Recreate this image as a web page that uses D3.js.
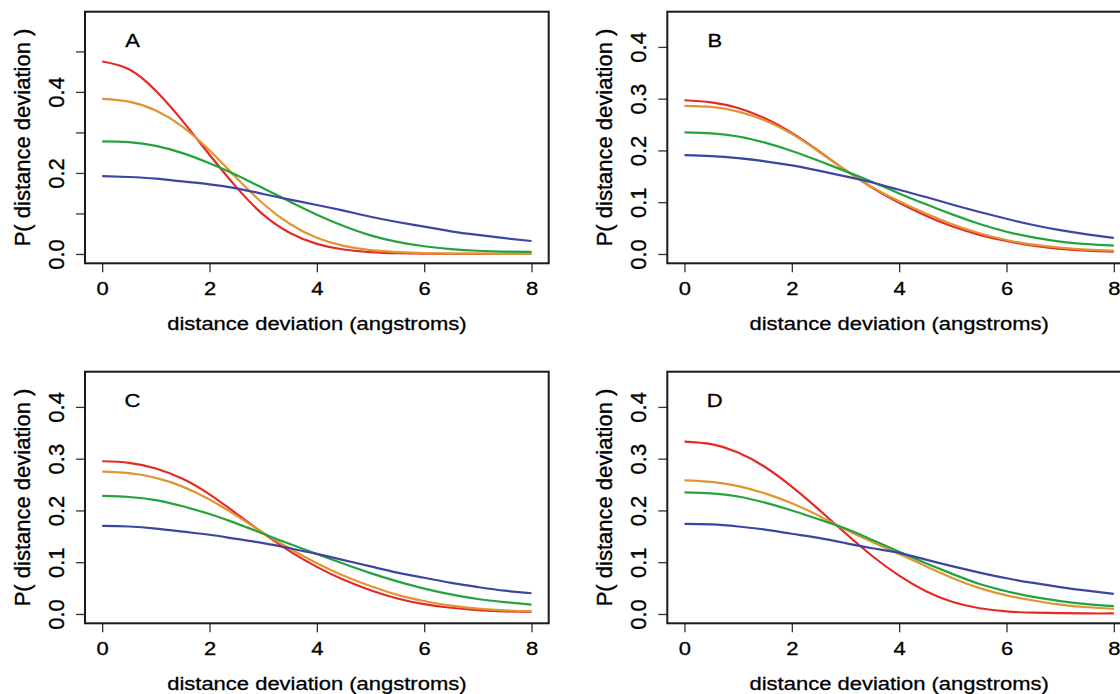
<!DOCTYPE html>
<html>
<head>
<meta charset="utf-8">
<script src="https://cdn.jsdelivr.net/npm/d3@7"></script>
<style>
  html, body { margin: 0; padding: 0; background: #fff; }
  svg { display: block; font-family: "Liberation Sans", Arial, Helvetica, sans-serif; }
  svg text { stroke: #000; stroke-width: 0.35px; }
</style>
</head>
<body>
<div id="chart"></div>
<script>
// distance deviation (angstroms), sampled every 0.5
const xValues = [0, 0.5, 1, 1.5, 2, 2.5, 3, 3.5, 4, 4.5, 5, 5.5, 6, 6.5, 7, 7.5, 8];
const xTicks = [0, 2, 4, 6, 8];

// panel A
const aRed = [0.475, 0.456, 0.403, 0.328, 0.245, 0.165, 0.097, 0.052, 0.025, 0.011, 0.0045, 0.0018, 0.0008, 0.0004, 0.0002, 0.0001, 0.0001];
const aOrange = [0.383, 0.376, 0.354, 0.314, 0.256, 0.188, 0.124, 0.074, 0.040, 0.020, 0.0095, 0.0045, 0.002, 0.001, 0.0007, 0.0005, 0.0004];
const aGreen = [0.278, 0.276, 0.267, 0.249, 0.224, 0.195, 0.162, 0.129, 0.097, 0.069, 0.046, 0.030, 0.019, 0.012, 0.008, 0.006, 0.005];
const aBlue = [0.192, 0.190, 0.186, 0.179, 0.172, 0.162, 0.148, 0.134, 0.121, 0.107, 0.092, 0.079, 0.0675, 0.056, 0.047, 0.039, 0.032];

// panel B
const bRed = [0.297, 0.293, 0.282, 0.262, 0.234, 0.199, 0.162, 0.128, 0.099, 0.074, 0.053, 0.037, 0.025, 0.016, 0.010, 0.0065, 0.0045];
const bOrange = [0.286, 0.284, 0.275, 0.258, 0.232, 0.198, 0.162, 0.129, 0.102, 0.078, 0.057, 0.040, 0.027, 0.018, 0.0122, 0.0084, 0.0065];
const bGreen = [0.235, 0.233, 0.227, 0.215, 0.199, 0.180, 0.160, 0.139, 0.117, 0.096, 0.076, 0.058, 0.043, 0.032, 0.024, 0.019, 0.016];
const bBlue = [0.191, 0.189, 0.185, 0.179, 0.171, 0.161, 0.150, 0.138, 0.124, 0.110, 0.095, 0.081, 0.068, 0.056, 0.046, 0.038, 0.031];

// panel C
const cRed = [0.295, 0.292, 0.281, 0.261, 0.231, 0.194, 0.156, 0.121, 0.091, 0.066, 0.046, 0.030, 0.019, 0.012, 0.0075, 0.005, 0.0039];
const cOrange = [0.275, 0.272, 0.263, 0.246, 0.221, 0.190, 0.157, 0.126, 0.098, 0.074, 0.054, 0.037, 0.025, 0.016, 0.0105, 0.007, 0.0052];
const cGreen = [0.228, 0.226, 0.220, 0.208, 0.193, 0.175, 0.155, 0.135, 0.116, 0.097, 0.079, 0.063, 0.049, 0.038, 0.029, 0.023, 0.018];
const cBlue = [0.170, 0.169, 0.165, 0.159, 0.153, 0.145, 0.137, 0.127, 0.116, 0.104, 0.092, 0.080, 0.070, 0.060, 0.052, 0.045, 0.040];

// panel D
const dRed = [0.333, 0.328, 0.312, 0.284, 0.246, 0.202, 0.156, 0.112, 0.074, 0.044, 0.023, 0.011, 0.005, 0.0025, 0.0015, 0.001, 0.001];
const dOrange = [0.258, 0.255, 0.247, 0.233, 0.214, 0.190, 0.163, 0.139, 0.116, 0.092, 0.069, 0.050, 0.036, 0.026, 0.018, 0.013, 0.010];
const dGreen = [0.235, 0.233, 0.227, 0.215, 0.200, 0.183, 0.165, 0.143, 0.120, 0.098, 0.077, 0.058, 0.044, 0.033, 0.025, 0.019, 0.015];
const dBlue = [0.174, 0.173, 0.169, 0.163, 0.155, 0.147, 0.137, 0.127, 0.118, 0.105, 0.092, 0.080, 0.069, 0.060, 0.052, 0.045, 0.039];

const yTicksA = [0, 0.1, 0.2, 0.3, 0.4, 0.5];
const yLabelsA = [0, 0.2, 0.4];
const yTicksBCD = [0, 0.1, 0.2, 0.3, 0.4];

const colors = ['#e42a27', '#df9534', '#24a23e', '#3c45a1'];

const width = 1120;
const height = 694;
const font = 22;
const squash = 'scale(1,0.84)';

const panels = [
  { label: 'A', left: 85, top: 11.7, bottom: 263.3, yDomain: [-0.023, 0.598], yTicks: yTicksA, yLabels: yLabelsA, series: [aRed, aOrange, aGreen, aBlue] },
  { label: 'B', left: 667.3, top: 11.7, bottom: 263.3, yDomain: [-0.018, 0.468], yTicks: yTicksBCD, yLabels: yTicksBCD, series: [bRed, bOrange, bGreen, bBlue] },
  { label: 'C', left: 85, top: 371.7, bottom: 623.3, yDomain: [-0.018, 0.468], yTicks: yTicksBCD, yLabels: yTicksBCD, series: [cRed, cOrange, cGreen, cBlue] },
  { label: 'D', left: 667.3, top: 371.7, bottom: 623.3, yDomain: [-0.018, 0.468], yTicks: yTicksBCD, yLabels: yTicksBCD, series: [dRed, dOrange, dGreen, dBlue] },
];
const boxWidth = 463.7;

const svg = d3.select('#chart').append('svg')
  .attr('width', width)
  .attr('height', height)
  .style('overflow', 'hidden');

svg.append('rect').attr('width', width).attr('height', height).attr('fill', '#fff');

panels.forEach((p) => {
  const x = d3.scaleLinear().domain([-0.32, 8.32]).range([p.left, p.left + boxWidth]);
  const y = d3.scaleLinear().domain(p.yDomain).range([p.bottom, p.top]);
  const g = svg.append('g');

  // x axis
  const gx = g.append('g')
    .attr('transform', `translate(0,${p.bottom})`)
    .call(d3.axisBottom(x).tickValues(xTicks).tickSize(9).tickFormat(d3.format('d')));
  gx.select('.domain').remove();
  gx.selectAll('line').attr('stroke', '#333').attr('stroke-width', 1.3);
  gx.selectAll('text')
    .attr('y', 0)
    .attr('dy', '0.36em')
    .attr('transform', `translate(0,25) ${squash}`)
    .attr('font-size', font)
    .attr('fill', '#000');

  // y axis
  const gy = g.append('g')
    .attr('transform', `translate(${p.left},0)`)
    .call(d3.axisLeft(y).tickValues(p.yTicks).tickSize(9)
      .tickFormat(d => (p.yLabels.includes(d) ? d3.format('.1f')(d) : '')));
  gy.select('.domain').remove();
  gy.selectAll('line').attr('stroke', '#333').attr('stroke-width', 1.3);
  gy.selectAll('text')
    .attr('x', 0)
    .attr('dy', '0.36em')
    .attr('text-anchor', 'middle')
    .attr('transform', 'translate(-29,0) rotate(-90)')
    .attr('font-size', font)
    .attr('fill', '#000');

  // curves
  const line = d3.line()
    .x((d, i) => x(xValues[i]))
    .y(d => y(d))
    .curve(d3.curveNatural);

  g.append('g')
    .attr('fill', 'none')
    .attr('stroke-width', 2.2)
    .selectAll('path')
    .data(p.series)
    .join('path')
    .attr('stroke', (d, i) => colors[i])
    .attr('d', line);

  // box
  g.append('rect')
    .attr('x', p.left)
    .attr('y', p.top)
    .attr('width', boxWidth)
    .attr('height', p.bottom - p.top)
    .attr('fill', 'none')
    .attr('stroke', '#1a1a1a')
    .attr('stroke-width', 2);

  // panel letter
  g.append('text')
    .attr('transform', `translate(${p.left + 47.5},${p.top + 29}) ${squash}`)
    .attr('dy', '0.36em')
    .attr('text-anchor', 'middle')
    .attr('font-size', font)
    .attr('fill', '#000')
    .text(p.label);

  // axis titles
  g.append('text')
    .attr('transform', `translate(${p.left + boxWidth / 2},${p.bottom + 60}) ${squash}`)
    .attr('dy', '0.36em')
    .attr('text-anchor', 'middle')
    .attr('font-size', font)
    .attr('fill', '#000')
    .text('distance deviation (angstroms)');

  g.append('text')
    .attr('transform', `translate(${p.left - 63},${(p.top + p.bottom) / 2}) rotate(-90)`)
    .attr('dy', '0.36em')
    .attr('text-anchor', 'middle')
    .attr('font-size', font)
    .attr('fill', '#000')
    .text('P( distance deviation )');
});
</script>
</body>
</html>
